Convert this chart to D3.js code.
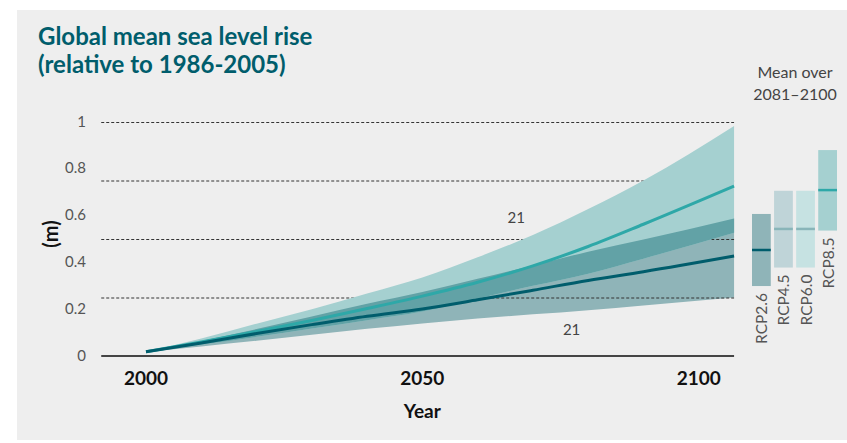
<!DOCTYPE html>
<html>
<head>
<meta charset="utf-8">
<script src="https://cdn.jsdelivr.net/npm/d3@7"></script>
<style>
  html, body { margin: 0; padding: 0; background: #ffffff; }
  svg { display: block; }
  text { font-family: Lato, "Open Sans", sans-serif; }
</style>
</head>
<body>
<svg id="chart" width="847" height="443"></svg>
<script>
// Projected global mean sea level rise (m, relative to 1986-2005)
const years   = [2000, 2010, 2020, 2030, 2040, 2050, 2060, 2070, 2080, 2090, 2106.4];
const rcp85Hi = [0.018, 0.075, 0.138, 0.200, 0.267, 0.336, 0.422, 0.517, 0.628, 0.750, 0.983];
const rcp85Md = [0.018, 0.060, 0.105, 0.152, 0.203, 0.256, 0.315, 0.385, 0.468, 0.563, 0.726];
const rcp85Lo = [0.018, 0.049, 0.082, 0.117, 0.153, 0.190, 0.245, 0.300, 0.352, 0.416, 0.527];
const rcp26Hi = [0.018, 0.064, 0.115, 0.169, 0.223, 0.273, 0.330, 0.387, 0.446, 0.498, 0.588];
const rcp26Md = [0.018, 0.056, 0.096, 0.134, 0.170, 0.201, 0.240, 0.281, 0.323, 0.360, 0.427];
const rcp26Lo = [0.018, 0.041, 0.065, 0.091, 0.116, 0.139, 0.160, 0.178, 0.196, 0.216, 0.250];

// Model counts shown on the plume
const modelCountLabels = [
  { year: 2067, value: 0.595, text: "21" },
  { year: 2077, value: 0.115, text: "21" }
];

// Mean over 2081-2100 per scenario
const scenarios = ["RCP2.6", "RCP4.5", "RCP6.0", "RCP8.5"];
const scenLow   = [0.299, 0.378, 0.378, 0.536];
const scenMean  = [0.453, 0.543, 0.543, 0.709];
const scenHigh  = [0.607, 0.706, 0.706, 0.880];

// Axes
const xTicks = [2000, 2050, 2100];
const yTickLabels = [0, 0.2, 0.4, 0.6, 0.8, 1];
const gridValues = [0.25, 0.5, 0.75, 1];
const axisExtent = [1991.9, 2106.4];

const svg = d3.select("#chart");

const x = d3.scaleLinear().domain([2000, 2100]).range([146, 698.7]);
const y = d3.scaleLinear().domain([0, 1]).range([356, 122]);

// panel background
svg.append("rect").attr("x", 17).attr("y", 10).attr("width", 830).attr("height", 430)
  .attr("fill", "#eeeeee");

// title
const title = svg.append("text")
  .attr("fill", "#005d6c").attr("font-weight", 700).attr("font-size", 24);
title.append("tspan").attr("x", 38).attr("y", 45).text("Global mean sea level rise");
title.append("tspan").attr("x", 38).attr("y", 73).text("(relative to 1986-2005)");

const rows = years.map((yr, i) => ({
  yr,
  hi85: rcp85Hi[i], md85: rcp85Md[i], lo85: rcp85Lo[i],
  hi26: rcp26Hi[i], md26: rcp26Md[i], lo26: rcp26Lo[i]
}));

const curve = d3.curveMonotoneX;
const band = (lo, hi) => d3.area().curve(curve)
  .x(d => x(d.yr)).y0(d => y(lo(d))).y1(d => y(hi(d)));

// RCP2.6 range
svg.append("path").datum(rows)
  .attr("d", band(d => d.lo26, d => d.hi26))
  .attr("fill", "#8fb4b8");

// dashed reference lines
svg.append("g").selectAll("line").data(gridValues).join("line")
  .attr("x1", x(axisExtent[0])).attr("x2", x(axisExtent[1]))
  .attr("y1", d => y(d) + 0.5).attr("y2", d => y(d) + 0.5)
  .attr("stroke", "#333").attr("stroke-width", 1).attr("stroke-dasharray", "3,2");

// RCP8.5 range
svg.append("path").datum(rows)
  .attr("d", band(d => d.lo85, d => d.hi85))
  .attr("fill", "#a5d0d0");

// overlap of both ranges
svg.append("path").datum(rows)
  .attr("d", band(d => Math.max(d.lo85, d.lo26), d => Math.min(d.hi85, d.hi26)))
  .attr("fill", "#62a2a6");

// mean lines
const line = acc => d3.line().curve(curve).x(d => x(d.yr)).y(d => y(acc(d)));
svg.append("path").datum(rows).attr("d", line(d => d.md85))
  .attr("fill", "none").attr("stroke", "#2ea8a8").attr("stroke-width", 3);
svg.append("path").datum(rows).attr("d", line(d => d.md26))
  .attr("fill", "none").attr("stroke", "#005d6c").attr("stroke-width", 3);

// model counts
svg.append("g").selectAll("text").data(modelCountLabels).join("text")
  .attr("x", d => x(d.year)).attr("y", d => y(d.value))
  .attr("text-anchor", "middle").attr("dominant-baseline", "central")
  .attr("font-size", 15).attr("fill", "#444").text(d => d.text);

// x axis baseline
svg.append("line")
  .attr("x1", x(axisExtent[0])).attr("x2", x(axisExtent[1]))
  .attr("y1", y(0)).attr("y2", y(0))
  .attr("stroke", "#444").attr("stroke-width", 2);

// x tick labels
svg.append("g").selectAll("text").data(xTicks).join("text")
  .attr("x", d => x(d)).attr("y", 385)
  .attr("text-anchor", "middle").attr("font-weight", 700).attr("font-size", 19)
  .attr("fill", "#111").text(d => d);

svg.append("text").attr("x", x(2050)).attr("y", 418)
  .attr("text-anchor", "middle").attr("font-weight", 700).attr("font-size", 19)
  .attr("fill", "#111").text("Year");

// y tick labels
svg.append("g").selectAll("text").data(yTickLabels).join("text")
  .attr("x", 86).attr("y", d => y(d) - 1.5)
  .attr("text-anchor", "end").attr("dominant-baseline", "central")
  .attr("font-size", 15).attr("fill", "#555").text(d => d);

svg.append("text")
  .attr("transform", "translate(49.5,234) rotate(-90)")
  .attr("text-anchor", "middle").attr("dominant-baseline", "central")
  .attr("font-weight", 700).attr("font-size", 20).attr("fill", "#111").text("(m)");

// scenario bars: mean over 2081-2100
const xb = d3.scaleBand().domain(scenarios).range([752, 837]).paddingInner(0.15);
const barFill = ["#8fb4b8", "#bfd4d8", "#c6e2e2", "#a5d0d0"];
const barMean = ["#005d6c", "#89b5b9", "#89b5b9", "#2ea8a8"];

const bars = svg.append("g").selectAll("g").data(scenarios).join("g");
bars.append("rect")
  .attr("x", d => xb(d)).attr("width", xb.bandwidth())
  .attr("y", (d, i) => y(scenHigh[i]))
  .attr("height", (d, i) => y(scenLow[i]) - y(scenHigh[i]))
  .attr("fill", (d, i) => barFill[i]);
bars.append("line")
  .attr("x1", d => xb(d)).attr("x2", d => xb(d) + xb.bandwidth())
  .attr("y1", (d, i) => y(scenMean[i])).attr("y2", (d, i) => y(scenMean[i]))
  .attr("stroke", (d, i) => barMean[i]).attr("stroke-width", 2.5);
bars.append("text")
  .attr("transform", (d, i) => `translate(${xb(d) + xb.bandwidth() / 2},${y(scenLow[i]) + 7}) rotate(-90)`)
  .attr("text-anchor", "end").attr("dominant-baseline", "central")
  .attr("font-size", 15.5).attr("fill", "#555").text(d => d);

const note = svg.append("text").attr("text-anchor", "middle")
  .attr("font-size", 16).attr("fill", "#444");
note.append("tspan").attr("x", 795).attr("y", 78).text("Mean over");
note.append("tspan").attr("x", 795).attr("y", 100).text("2081\u20132100");
</script>
</body>
</html>
